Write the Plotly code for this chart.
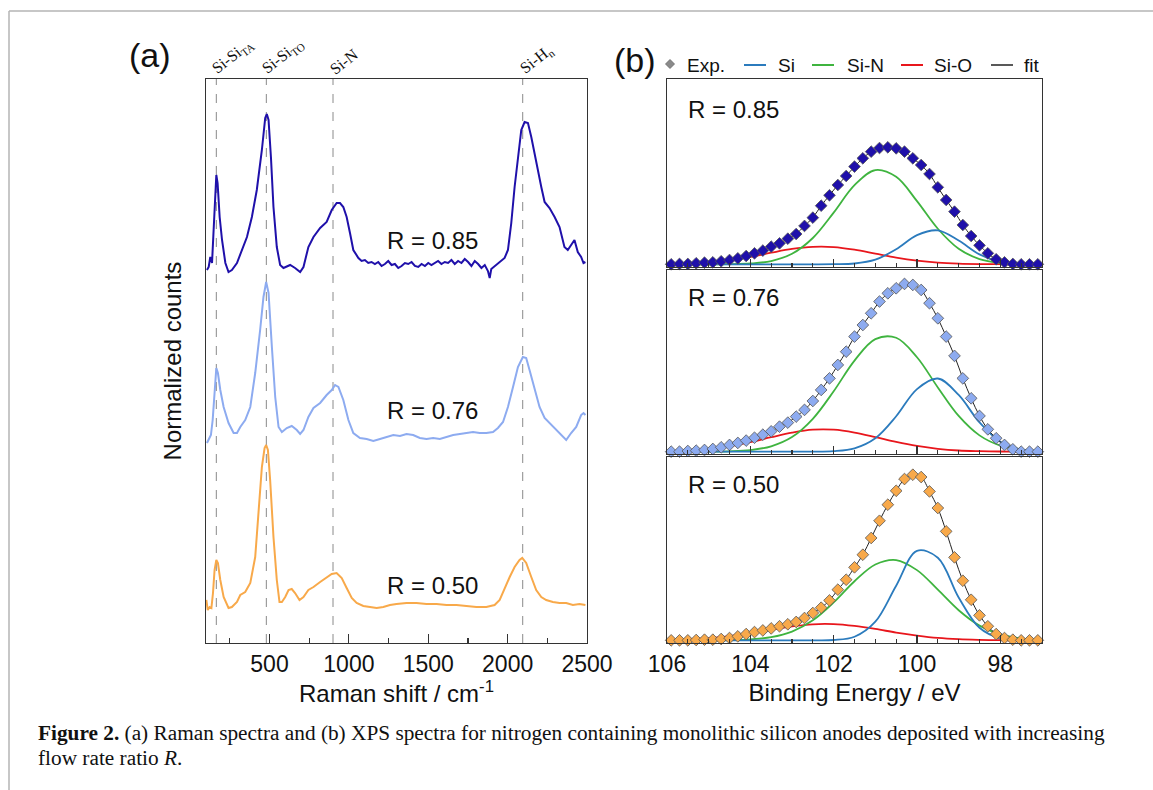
import plotly.graph_objects as go

W, H = 1153, 790

# ---------------- Raman data (panel a), stacked normalized counts ----------------
raman_wn_085 = [106, 117, 127, 138, 148, 159, 165, 173, 186, 201,
                222, 242, 263, 295, 326, 358, 389, 420, 452, 473,
                483, 494, 509, 525, 546, 567, 588, 630, 661, 693,
                714, 745, 777, 819, 860, 892, 923, 944, 965, 986,
                1007, 1028,
                1060, 1080, 1101, 1122, 1143, 1164, 1185, 1206, 1227, 1248,
                1269, 1290, 1311, 1332, 1353, 1374, 1395, 1416, 1437, 1458,
                1479, 1500, 1520, 1541, 1562, 1583, 1604, 1625, 1646, 1667,
                1688, 1709, 1730, 1751, 1772, 1793, 1814, 1835, 1856, 1876,
                1887, 1897, 1918, 1939, 1960, 1981, 2002,
                2023, 2044, 2065, 2086, 2107, 2128, 2149, 2170, 2191, 2212,
                2233, 2264, 2296, 2327, 2358, 2379, 2400, 2421, 2442, 2463,
                2478, 2490]
raman_int_085 = [3.73, 3.76, 3.86, 3.80, 4.13, 4.56, 4.68, 4.60, 4.26, 4.03,
                 3.80, 3.71, 3.73, 3.80, 3.93, 4.06, 4.26, 4.53, 4.93, 5.25,
                 5.29, 5.23, 4.86, 4.36, 3.96, 3.78, 3.75, 3.78, 3.75, 3.71,
                 3.76, 3.96, 4.06, 4.15, 4.21, 4.33, 4.40, 4.40, 4.36, 4.26,
                 4.10, 3.93,
                 3.85, 3.82, 3.83, 3.80, 3.81, 3.79, 3.81, 3.77, 3.79, 3.82,
                 3.78, 3.79, 3.75, 3.77, 3.80, 3.79, 3.81, 3.77, 3.76, 3.79,
                 3.77, 3.80, 3.78, 3.80, 3.82, 3.79, 3.81, 3.80, 3.83, 3.79,
                 3.82, 3.80, 3.84, 3.81, 3.77, 3.82, 3.79, 3.75, 3.78, 3.72,
                 3.65, 3.74, 3.77, 3.79, 3.82, 3.85, 3.93,
                 4.20, 4.56, 4.86, 5.13, 5.21, 5.20, 5.06, 4.88, 4.73, 4.56,
                 4.41, 4.35, 4.26, 4.16, 3.96, 3.93, 3.98, 4.03, 3.91, 3.86,
                 3.80, 3.81]

raman_wn_076 = [106, 117, 131, 142, 154, 165, 175, 190, 211, 242,
                274, 295, 316, 347, 379, 410, 441, 462, 479, 494,
                515, 536, 557, 578, 609, 640, 672, 693, 714, 745,
                777, 819, 860, 892, 913, 934, 965, 997, 1028, 1070,
                1112, 1154, 1196, 1238, 1280, 1322, 1363, 1405, 1447, 1489,
                1531, 1573, 1615, 1657, 1699, 1740, 1782, 1824, 1866, 1908,
                1939, 1971, 2002, 2034, 2065, 2096, 2117, 2138, 2170, 2201,
                2233, 2264, 2306, 2348, 2369, 2400, 2432, 2463, 2478, 2490]
raman_int_076 = [2.00, 2.03, 2.08, 2.23, 2.53, 2.75, 2.70, 2.53, 2.36, 2.20,
                 2.10, 2.10, 2.16, 2.23, 2.36, 2.70, 3.13, 3.46, 3.61, 3.50,
                 2.96, 2.46, 2.16, 2.11, 2.15, 2.17, 2.13, 2.09, 2.13, 2.26,
                 2.35, 2.40, 2.48, 2.53, 2.58, 2.56, 2.43, 2.23, 2.10, 2.05,
                 2.04, 2.02, 2.04, 2.06, 2.08, 2.07, 2.09, 2.08, 2.05, 2.04,
                 2.05, 2.04, 2.06, 2.08, 2.09, 2.10, 2.11, 2.10, 2.10, 2.11,
                 2.15, 2.21, 2.36, 2.56, 2.76, 2.86, 2.85, 2.73, 2.53, 2.36,
                 2.25, 2.20, 2.13, 2.06, 2.03, 2.10, 2.16, 2.28, 2.30, 2.28]

raman_wn_050 = [102, 111, 123, 134, 144, 154, 165, 175, 190, 211,
                242, 263, 295, 316, 347, 379, 410, 431, 452, 469,
                479, 490, 504, 525, 546, 563, 578, 599, 620, 640,
                661, 689, 714, 745, 777, 819, 860, 892, 923, 955,
                986, 1018, 1049, 1091, 1133, 1175, 1217, 1259, 1300, 1363,
                1426, 1489, 1552, 1615, 1678, 1740, 1803, 1866, 1918, 1950,
                1981, 2013, 2044, 2075, 2092, 2117, 2149, 2180, 2212, 2243,
                2285, 2327, 2369, 2411, 2453, 2490]
raman_int_050 = [0.43, 0.33, 0.36, 0.35, 0.50, 0.73, 0.83, 0.80, 0.63, 0.46,
                 0.35, 0.36, 0.41, 0.48, 0.51, 0.60, 0.86, 1.30, 1.76, 1.95,
                 1.98, 1.93, 1.63, 1.06, 0.63, 0.41, 0.41, 0.46, 0.53, 0.54,
                 0.50, 0.43, 0.46, 0.53, 0.56, 0.61, 0.66, 0.69, 0.70, 0.65,
                 0.55, 0.45, 0.40, 0.37, 0.36, 0.35, 0.36, 0.38, 0.39, 0.40,
                 0.40, 0.39, 0.39, 0.38, 0.38, 0.37, 0.36, 0.36, 0.38, 0.43,
                 0.55, 0.66, 0.76, 0.83, 0.85, 0.80, 0.66, 0.53, 0.46, 0.43,
                 0.41, 0.40, 0.40, 0.38, 0.39, 0.38]

raman_modes = [165, 480, 900, 2095]
raman_mode_labels = ["Si-Si<sub>TA</sub>", "Si-Si<sub>TO</sub>", "Si-N", "Si-H<sub>n</sub>"]
raman_colors = {"0.85": "#1f10aa", "0.76": "#8dabf0", "0.50": "#f8a94a"}

# ---------------- XPS data (panel b), normalized intensity ----------------
xps_be = [105.9, 105.7, 105.5, 105.3, 105.1, 104.9, 104.7, 104.5, 104.3, 104.1,
          103.9, 103.7, 103.5, 103.3, 103.1, 102.9, 102.7, 102.5, 102.3, 102.1,
          101.9, 101.7, 101.5, 101.3, 101.1, 100.9, 100.7, 100.5, 100.3, 100.1,
          99.9, 99.7, 99.5, 99.3, 99.1, 98.9, 98.7, 98.5, 98.3, 98.1,
          97.9, 97.7, 97.5, 97.3, 97.1]
xps_exp_085 = [0.000, 0.003, 0.003, 0.009, 0.014, 0.017, 0.026, 0.037, 0.051, 0.071,
               0.094, 0.117, 0.151, 0.179, 0.219, 0.259, 0.328, 0.399, 0.501, 0.590,
               0.678, 0.755, 0.835, 0.906, 0.963, 0.994, 1.000, 0.991, 0.963, 0.906,
               0.849, 0.772, 0.658, 0.550, 0.450, 0.336, 0.242, 0.162, 0.094, 0.043,
               0.017, 0.003, 0.000, 0.000, 0.000]
xps_exp_076 = [0.000, 0.000, 0.004, 0.006, 0.010, 0.016, 0.026, 0.040, 0.052, 0.066,
               0.083, 0.101, 0.121, 0.149, 0.173, 0.209, 0.249, 0.302, 0.368, 0.437,
               0.517, 0.596, 0.686, 0.755, 0.825, 0.895, 0.944, 0.974, 1.000, 0.994,
               0.964, 0.885, 0.795, 0.686, 0.571, 0.437, 0.318, 0.213, 0.133, 0.080,
               0.040, 0.014, 0.000, 0.000, 0.000]
xps_exp_050 = [0.000, 0.000, 0.000, 0.002, 0.004, 0.004, 0.008, 0.014, 0.024, 0.038,
               0.050, 0.060, 0.072, 0.085, 0.097, 0.111, 0.135, 0.165, 0.197, 0.241,
               0.306, 0.366, 0.441, 0.517, 0.618, 0.722, 0.819, 0.903, 0.974, 1.000,
               0.986, 0.899, 0.799, 0.658, 0.501, 0.360, 0.245, 0.151, 0.085, 0.038,
               0.014, 0.004, 0.000, 0.000, 0.000]

comp_be = [106.0, 105.5, 105.0, 104.5, 104.0, 103.5, 103.0, 102.5, 102.0, 101.5,
           101.0, 100.5, 100.0, 99.5, 99.0, 98.5, 98.0, 97.5, 97.0]
si_085 = [0, 0, 0, 0, 0, 0, 0, 0, 0.001, 0.007, 0.040, 0.128, 0.249, 0.290, 0.203, 0.085, 0.021, 0.003, 0]
sin_085 = [0, 0, 0, 0.001, 0.007, 0.028, 0.090, 0.225, 0.442, 0.677, 0.806, 0.748, 0.540, 0.304, 0.133, 0.045, 0.012, 0.003, 0]
sio_085 = [0.003, 0.007, 0.017, 0.036, 0.064, 0.099, 0.131, 0.149, 0.147, 0.125, 0.092, 0.058, 0.032, 0.015, 0.006, 0.002, 0.001, 0, 0]
si_076 = [0, 0, 0, 0, 0, 0, 0, 0, 0.003, 0.020, 0.080, 0.211, 0.373, 0.436, 0.338, 0.174, 0.059, 0.013, 0.002]
sin_076 = [0, 0, 0, 0.002, 0.009, 0.032, 0.087, 0.196, 0.360, 0.543, 0.671, 0.679, 0.563, 0.383, 0.213, 0.097, 0.036, 0.011, 0.003]
sio_076 = [0.003, 0.007, 0.016, 0.033, 0.057, 0.086, 0.113, 0.131, 0.131, 0.114, 0.087, 0.058, 0.034, 0.017, 0.007, 0.003, 0.001, 0, 0]
si_050 = [0, 0, 0, 0, 0, 0, 0, 0, 0.002, 0.022, 0.113, 0.330, 0.540, 0.499, 0.259, 0.076, 0.012, 0.001, 0]
sin_050 = [0, 0, 0, 0.001, 0.006, 0.019, 0.053, 0.121, 0.229, 0.357, 0.458, 0.485, 0.424, 0.306, 0.182, 0.089, 0.036, 0.012, 0.003]
sio_050 = [0.002, 0.006, 0.013, 0.026, 0.043, 0.064, 0.084, 0.097, 0.098, 0.087, 0.069, 0.047, 0.029, 0.015, 0.007, 0.003, 0.001, 0, 0]

comp_colors = {"Si": "#2b7bbd", "Si-N": "#3fb43f", "Si-O": "#e8161c", "fit": "#222222"}
xps_marker_colors = {"0.85": "#1f10aa", "0.76": "#8dabf0", "0.50": "#f8a94a"}

SANS = "Liberation Sans, Arial, sans-serif"
SERIF = "Liberation Serif, Times New Roman, serif"
BOX = "#333333"
TXT = "#111111"


def fx(p):
    return p / W


def fy(p):
    return 1 - p / H


fig = go.Figure()

# ---- panel a traces ----
for key, wn, it in [("0.85", raman_wn_085, raman_int_085),
                    ("0.76", raman_wn_076, raman_int_076),
                    ("0.50", raman_wn_050, raman_int_050)]:
    fig.add_trace(go.Scatter(x=wn, y=it, mode="lines", xaxis="x", yaxis="y",
                             line=dict(color=raman_colors[key], width=2),
                             name="R = " + key, showlegend=False))

# ---- panel b traces ----
xps_sets = [
    ("0.85", "x2", "y2", xps_exp_085, si_085, sin_085, sio_085),
    ("0.76", "x3", "y3", xps_exp_076, si_076, sin_076, sio_076),
    ("0.50", "x4", "y4", xps_exp_050, si_050, sin_050, sio_050),
]
for key, xa, ya, exp, si, sin, sio in xps_sets:
    for nm, arr in [("Si-O", sio), ("Si-N", sin), ("Si", si)]:
        fig.add_trace(go.Scatter(x=comp_be, y=arr, mode="lines", xaxis=xa, yaxis=ya,
                                 line=dict(color=comp_colors[nm], width=1.8, shape="spline"),
                                 name=nm, showlegend=False))
    fig.add_trace(go.Scatter(x=xps_be, y=exp, mode="lines", xaxis=xa, yaxis=ya,
                             line=dict(color=comp_colors["fit"], width=1, shape="spline"),
                             name="fit", showlegend=False))
    fig.add_trace(go.Scatter(x=xps_be, y=exp, mode="markers", xaxis=xa, yaxis=ya,
                             marker=dict(symbol="diamond", size=9, color=xps_marker_colors[key],
                                         line=dict(color="#555555", width=0.8)),
                             cliponaxis=False, name="Exp.", showlegend=False))

# ---- axes ----
box = dict(showline=True, mirror=True, linecolor=BOX, linewidth=1.3,
           showgrid=False, zeroline=False)
xb_dom = [fx(667), fx(1042)]
minor_be = [105.5, 105, 104.5, 103.5, 103, 102.5, 101.5, 101, 100.5, 99.5, 99, 98.5, 97.5]

layout = dict(
    width=W, height=H,
    margin=dict(l=0, r=0, t=0, b=0),
    paper_bgcolor="white", plot_bgcolor="white",
    showlegend=False, hovermode=False,
    font=dict(family=SANS, color=TXT),
    xaxis=dict(domain=[fx(206), fx(587)], anchor="y", range=[100, 2500],
               tickvals=[500, 1000, 1500, 2000, 2500], ticks="inside", ticklen=9,
               tickwidth=1.2, tickcolor=BOX, tickfont=dict(size=23, family=SANS),
               minor=dict(tickvals=[250, 750, 1250, 1750, 2250], ticks="inside",
                          ticklen=5, tickwidth=1.2, tickcolor=BOX),
               title=dict(text="Raman shift / cm<sup>-1</sup>", font=dict(size=24, family=SANS),
                          standoff=8),
               automargin=False, **box),
    yaxis=dict(domain=[fy(643), fy(79)], anchor="x", range=[0, 5.64],
               showticklabels=False, ticks="",
               title=dict(text="Normalized counts", font=dict(size=24, family=SANS), standoff=16),
               automargin=False, **box),
)
ydoms = {"y2": [fy(267), fy(79)], "y3": [fy(454), fy(270)], "y4": [fy(643), fy(457)]}
yranges = {"y2": [-0.023, 1.584], "y3": [-0.014, 1.083], "y4": [-0.016, 1.107]}
for i, ya in [(2, "y2"), (3, "y3"), (4, "y4")]:
    xd = dict(domain=xb_dom, anchor=ya, range=[106, 97],
              tickvals=[106, 104, 102, 100, 98], ticks="inside", ticklen=8,
              tickwidth=1.2, tickcolor=BOX, tickfont=dict(size=23, family=SANS),
              showticklabels=(i == 4),
              minor=dict(tickvals=minor_be, ticks="inside", ticklen=4, tickwidth=1.1, tickcolor=BOX),
              automargin=False, **box)
    if i == 4:
        xd["title"] = dict(text="Binding Energy / eV", font=dict(size=24, family=SANS), standoff=8)
    layout["xaxis%d" % i] = xd
    layout["yaxis%d" % i] = dict(domain=ydoms[ya], anchor="x%d" % i, range=yranges[ya],
                                 showticklabels=False, ticks="", automargin=False, **box)
fig.update_layout(**layout)


def note(x, y, text, size, family=SANS, xanchor="center", angle=0, xref="paper", yref="paper"):
    fig.add_annotation(xref=xref, yref=yref, x=x, y=y, text=text, showarrow=False,
                       xanchor=xanchor, yanchor="middle", textangle=angle,
                       font=dict(family=family, size=size, color=TXT))


# ---- dashed mode lines & labels (panel a) ----
label_pos = [(233, 57), (283, 57), (344, 62), (537, 60)]
for wn, lab, (lx, ly) in zip(raman_modes, raman_mode_labels, label_pos):
    fig.add_shape(type="line", xref="x", yref="y domain", x0=wn, x1=wn, y0=0, y1=1,
                  line=dict(color="#8a8a8a", width=1, dash="dash"), layer="below")
    note(fx(lx), fy(ly), lab, 16, family=SERIF, angle=-38)

# ---- R labels ----
for txt, yv in [("R = 0.85", 4.03), ("R = 0.76", 2.33), ("R = 0.50", 0.58)]:
    note(1227, yv, txt, 24, xanchor="left", xref="x", yref="y")
for txt, xa, ya, yv in [("R = 0.85", "x2", "y2", 1.327), ("R = 0.76", "x3", "y3", 0.922),
                        ("R = 0.50", "x4", "y4", 0.94)]:
    note(105.54, yv, txt, 24, xanchor="left", xref=xa, yref=ya)

# ---- panel labels ----
note(fx(150), fy(55), "(a)", 34)
note(fx(635), fy(60), "(b)", 34)

# ---- manual legend for panel b ----
ly = 65
dx, dy = 4.5 / W, 4.5 / H
cx, cy = fx(670), fy(ly - 1)
fig.add_shape(type="path", xref="paper", yref="paper",
              path="M %f,%f L %f,%f L %f,%f L %f,%f Z" % (cx, cy + dy, cx + dx, cy, cx, cy - dy, cx - dx, cy),
              fillcolor="#8a8a8a", line=dict(color="#666666", width=0.8))
note(fx(685), fy(ly), "Exp.", 19, xanchor="left")
for nm, x0, x1, tx in [("Si", 744, 766, 776), ("Si-N", 812, 834, 845),
                       ("Si-O", 901, 923, 932), ("fit", 991, 1013, 1022)]:
    fig.add_shape(type="line", xref="paper", yref="paper", x0=fx(x0), x1=fx(x1),
                  y0=fy(ly), y1=fy(ly),
                  line=dict(color=comp_colors[nm], width=2 if nm != "fit" else 1.5))
    note(fx(tx), fy(ly), nm, 19, xanchor="left")

# ---- caption ----
note(fx(36), fy(733), "<b>Figure 2.</b> (a) Raman spectra and (b) XPS spectra for nitrogen containing "
                      "monolithic silicon anodes deposited with increasing", 21.3, family=SERIF, xanchor="left")
note(fx(36), fy(758), "flow rate ratio <i>R</i>.", 21.3, family=SERIF, xanchor="left")

# ---- page frame ----
fig.add_shape(type="line", xref="paper", yref="paper", x0=fx(9), x1=1, y0=fy(11), y1=fy(11),
              line=dict(color="#b4b4b4", width=1.5))
fig.add_shape(type="line", xref="paper", yref="paper", x0=fx(9), x1=fx(9), y0=0, y1=fy(11),
              line=dict(color="#b4b4b4", width=1.5))

fig.write_html("out.html", config={"displayModeBar": False, "staticPlot": True},
               post_script="document.body.style.margin='0px';")
